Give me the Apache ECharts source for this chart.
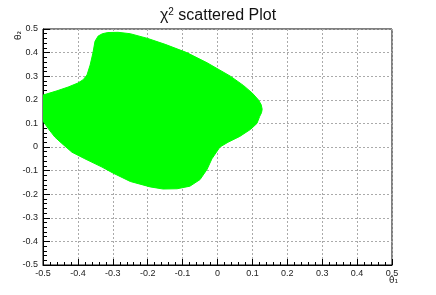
<!DOCTYPE html>
<html>
<head>
<meta charset="utf-8">
<script src="https://cdn.jsdelivr.net/npm/echarts@6/dist/echarts.min.js"></script>
<style>html,body{margin:0;padding:0;background:#fff;}#c{width:436px;height:295px;}</style>
</head>
<body>
<div id="c"></div>
<script>
// Boundary of the densely filled scatter region (theta1, theta2)
var regionTheta1 = [-0.5, -0.46, -0.428, -0.40, -0.385, -0.374, -0.365, -0.357, -0.351, -0.342, -0.33, -0.314, -0.285, -0.25, -0.2, -0.15, -0.088, -0.03, 0.037, 0.075, 0.1, 0.117, 0.125, 0.128, 0.126, 0.121, 0.113, 0.095, 0.064, 0.03, 0.007, -0.016, -0.03, -0.05, -0.079, -0.116, -0.156, -0.193, -0.25, -0.3, -0.331, -0.38, -0.417, -0.446, -0.466, -0.486, -0.5];
var regionTheta2 = [0.22, 0.238, 0.254, 0.271, 0.285, 0.305, 0.347, 0.398, 0.448, 0.47, 0.48, 0.485, 0.486, 0.48, 0.46, 0.435, 0.4, 0.357, 0.3, 0.26, 0.228, 0.2, 0.18, 0.16, 0.145, 0.13, 0.1, 0.075, 0.045, 0.02, 0.0, -0.05, -0.095, -0.138, -0.166, -0.177, -0.178, -0.169, -0.146, -0.11, -0.085, -0.05, -0.022, 0.015, 0.042, 0.08, 0.11];
var axisMin = -0.5, axisMax = 0.5, axisStep = 0.1;

var chart = echarts.init(document.getElementById('c'), null, {renderer: 'canvas'});
var pts = regionTheta1.map(function (x, i) { return [x, regionTheta2[i]]; });
var fmt = function (v) { var r = Math.round(v * 10) / 10; return r === 0 ? '0' : String(r); };
var labelStyle = {color: '#222', fontSize: 9, fontFamily: 'Liberation Sans, Arial, sans-serif'};
var splitStyle = {show: true, lineStyle: {color: '#aaa', type: [2, 2], width: 1}};

chart.setOption({
  animation: false,
  backgroundColor: '#fff',
  title: {
    text: '{a|χ}{s|2}{a| scattered Plot}',
    left: 'center', top: 2,
    textStyle: {
      fontWeight: 'normal',
      rich: {
        a: {fontSize: 16, fontWeight: 'normal', color: '#111', fontFamily: 'Liberation Sans, Arial, sans-serif'},
        s: {fontSize: 10, fontWeight: 'normal', color: '#111', fontFamily: 'Liberation Sans, Arial, sans-serif', verticalAlign: 'top', padding: [0, 0, 8, 0]}
      }
    }
  },
  grid: {left: 43, right: 44, top: 29, bottom: 30, show: true, borderColor: '#000', borderWidth: 1, backgroundColor: 'transparent'},
  xAxis: {
    type: 'value', min: axisMin, max: axisMax, interval: axisStep,
    axisLine: {show: true, onZero: false, lineStyle: {color: '#000', width: 1}},
    axisTick: {show: true, inside: true, length: 6, lineStyle: {color: '#000'}},
    minorTick: {show: true, splitNumber: 5, length: 3, lineStyle: {color: '#000'}},
    axisLabel: Object.assign({margin: 4, formatter: fmt}, labelStyle),
    splitLine: splitStyle
  },
  yAxis: {
    type: 'value', min: axisMin, max: axisMax, interval: axisStep,
    axisLine: {show: true, onZero: false, lineStyle: {color: '#000', width: 1}},
    axisTick: {show: true, inside: true, length: 7, lineStyle: {color: '#000'}},
    minorTick: {show: true, splitNumber: 5, length: 4, lineStyle: {color: '#000'}},
    axisLabel: Object.assign({margin: 5, formatter: fmt}, labelStyle),
    splitLine: splitStyle
  },
  graphic: [
    {type: 'text', x: 14, y: 40, rotation: Math.PI / 2, style: {text: 'θ₂', fontSize: 9, fill: '#222', fontFamily: 'DejaVu Sans, sans-serif'}},
    {type: 'text', x: 389, y: 276, style: {text: 'θ₁', fontSize: 9, fill: '#222', fontFamily: 'DejaVu Sans, sans-serif'}}
  ],
  series: [{
    type: 'custom',
    clip: true,
    data: pts,
    renderItem: function (params, api) {
      if (params.dataIndex !== 0) return null;
      var poly = pts.map(function (p) { return api.coord(p); });
      return {type: 'polygon', shape: {points: poly}, style: {fill: '#00ff00', stroke: '#00ff00', lineWidth: 1}};
    },
    z: 3
  }]
});
</script>
</body>
</html>
